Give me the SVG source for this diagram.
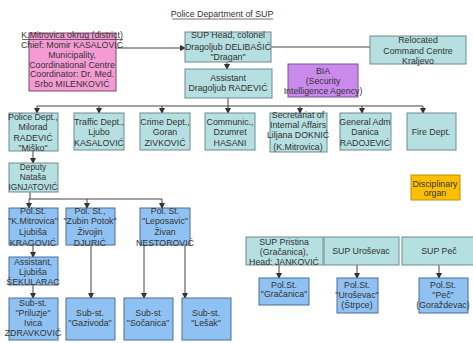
<svg xmlns="http://www.w3.org/2000/svg" width="473" height="343" viewBox="0 0 473 343">
<defs>
<marker id="ah" markerWidth="6" markerHeight="6" refX="5" refY="3" orient="auto" markerUnits="userSpaceOnUse">
<path d="M0,0 L6,3 L0,6 z" fill="#333"/>
</marker>
<style>
text{font-family:"Liberation Sans",Arial,sans-serif;font-size:8.8px;fill:#333;text-anchor:middle}
.s{font-size:8.3px}
.t{fill:#b5dfe0;stroke:#6f8c8e;stroke-width:1}
.b{fill:#8fc2f2;stroke:#4d6e96;stroke-width:1}
.p{fill:#f59bd4;stroke:#7a4a66;stroke-width:1}
.v{fill:#c98aec;stroke:#7a4f96;stroke-width:1}
.o{fill:#fdc000;stroke:#c09000;stroke-width:1}
.c{fill:none;stroke:#444;stroke-width:1}
.a{marker-end:url(#ah)}
</style>
</defs>
<rect width="473" height="343" fill="#fff"/>
<g id="title">
<text x="222" y="17">Police Department of SUP</text>
<line x1="172" y1="19" x2="273" y2="19" stroke="#333" stroke-width="0.7"/>
</g>
<g id="connectors">
<path class="c a" d="M116,48 H185"/>
<path class="c" d="M271,47 H370"/>
<path class="c a" d="M227,62 V69"/>
<path class="c a" d="M228,98 V113"/>
<path class="c" d="M37,106 H423"/>
<path class="c a" d="M37,106 V113"/>
<path class="c a" d="M99,106 V113"/>
<path class="c a" d="M162,106 V113"/>
<path class="c a" d="M300,106 V113"/>
<path class="c a" d="M362,106 V113"/>
<path class="c a" d="M423,106 V113"/>
<path class="c a" d="M33,151 V163"/>
<path class="c" d="M30,192 V199 M29,199 H162"/>
<path class="c a" d="M29,199 V208"/>
<path class="c a" d="M87,199 V208"/>
<path class="c a" d="M162,199 V208"/>
<path class="c a" d="M33,245 V257"/>
<path class="c a" d="M33,285 V298"/>
<path class="c a" d="M91,245 V298"/>
<path class="c a" d="M144,245 V298"/>
<path class="c a" d="M185,245 V298"/>
<path class="c a" d="M279,265 V278"/>
<path class="c a" d="M357,265 V278"/>
<path class="c a" d="M439,265 V278"/>
</g>
<g id="district">
<rect class="p" x="29" y="33" width="87" height="58"/>
<text x="72" y="38">K.Mitrovica okrug (district)</text>
<line x1="22" y1="39.5" x2="123" y2="39.5" stroke="#333" stroke-width="0.7"/>
<text x="72" y="48">Chief: Momir KASALOVIĆ</text>
<text x="72" y="58">Municipality,</text>
<text x="72" y="68">Coordinational Centre</text>
<text x="72" y="77">Coordinator: Dr. Med.</text>
<text x="72" y="87">Srbo MILENKOVIĆ</text>
</g>
<g id="suphead">
<rect class="t" x="185" y="32" width="86" height="30"/>
<text x="228" y="38">SUP Head, colonel</text>
<text x="228" y="50">Dragoljub DELIBAŠIĆ</text>
<text x="228" y="60">"Dragan"</text>
</g>
<g id="relocated">
<rect class="t" x="370" y="36" width="96" height="28"/>
<text x="418" y="43">Relocated</text>
<text x="418" y="54">Command Centre</text>
<text x="418" y="64">Kraljevo</text>
</g>
<g id="assistant">
<rect class="t" x="185" y="69" width="87" height="29"/>
<text x="228" y="81">Assistant</text>
<text x="228" y="91">Dragoljub RADEVIĆ</text>
</g>
<g id="bia">
<rect class="v" x="288" y="64" width="70" height="33"/>
<text x="323" y="74">BIA</text>
<text x="323" y="84">(Security</text>
<text x="323" y="94">Intelligence Agency)</text>
</g>
<g id="police">
<rect class="t" x="9" y="113" width="49" height="38"/>
<text x="33" y="120">Police Dept.,</text>
<text x="33" y="130">Milorad</text>
<text x="33" y="141">RADEVIĆ</text>
<text x="33" y="151">"Miško"</text>
</g>
<g id="traffic">
<rect class="t" x="74" y="113" width="50" height="37"/>
<text x="99" y="125">Traffic Dept.,</text>
<text x="99" y="135">Ljubo</text>
<text x="99" y="146">KASALOVIĆ</text>
</g>
<g id="crime">
<rect class="t" x="140" y="113" width="50" height="37"/>
<text x="165" y="125">Crime Dept.,</text>
<text x="165" y="135">Goran</text>
<text x="165" y="146">ZIVKOVIĆ</text>
</g>
<g id="communic">
<rect class="t" x="205" y="113" width="50" height="37"/>
<text x="230" y="125">Communic.,</text>
<text x="230" y="135">Dzumret</text>
<text x="230" y="146">HASANI</text>
</g>
<g id="secretariat">
<rect class="t" x="270" y="113" width="57" height="39"/>
<text x="298" y="118">Secretariat of</text>
<text x="298" y="128">Internal Affairs</text>
<text x="298" y="138">Liljana DOKNIĆ</text>
<text x="298" y="150">(K.Mitrovica)</text>
</g>
<g id="genadm">
<rect class="t" x="340" y="113" width="51" height="37"/>
<text x="365" y="125">General Adm</text>
<text x="365" y="135">Danica</text>
<text x="365" y="146">RADOJEVIĆ</text>
</g>
<g id="fire">
<rect class="t" x="407" y="113" width="49" height="37"/>
<text x="431" y="135">Fire Dept.</text>
</g>
<g id="deputy">
<rect class="t" x="9" y="163" width="49" height="29"/>
<text class="s" x="33" y="170">Deputy</text>
<text class="s" x="33" y="180">Nataša</text>
<text class="s" x="33" y="190">IGNJATOVIĆ</text>
</g>
<g id="disciplinary">
<rect class="o" x="411" y="175" width="49" height="25"/>
<text x="435" y="187">Disciplinary</text>
<text x="435" y="196">organ</text>
</g>
<g id="kmitrovica">
<rect class="b" x="9" y="208" width="49" height="37"/>
<text x="33" y="214">Pol.St.</text>
<text x="33" y="224">"K.Mitrovica"</text>
<text x="33" y="235">Ljubiša</text>
<text x="33" y="246">KRAGOVIĆ</text>
</g>
<g id="zubin">
<rect class="b" x="66" y="208" width="49" height="37"/>
<text x="90" y="214">Pol. St.,</text>
<text x="90" y="224">"Zubin Potok"</text>
<text x="90" y="235">Živojin</text>
<text x="90" y="246">DJURIĆ</text>
</g>
<g id="leposavic">
<rect class="b" x="140" y="208" width="50" height="37"/>
<text x="165" y="214">Pol. St.</text>
<text x="165" y="224">"Leposavic"</text>
<text x="165" y="235">Živan</text>
<text x="165" y="246">NESTOROVIĆ</text>
</g>
<g id="assistant2">
<rect class="b" x="9" y="257" width="49" height="28"/>
<text x="33" y="265">Assistant,</text>
<text x="33" y="275">Ljubiša</text>
<text x="33" y="285">ŠEKULARAC</text>
</g>
<g id="priluzje">
<rect class="b" x="9" y="298" width="49" height="42"/>
<text x="33" y="306">Sub-st.</text>
<text x="33" y="316">"Priluzje"</text>
<text x="33" y="326">Ivica</text>
<text x="33" y="336">ZDRAVKOVIĆ</text>
</g>
<g id="gazivoda">
<rect class="b" x="66" y="298" width="49" height="42"/>
<text x="90" y="316">Sub-st.</text>
<text x="90" y="326">"Gazivoda"</text>
</g>
<g id="socanica">
<rect class="b" x="124" y="298" width="49" height="42"/>
<text x="148" y="316">Sub-st</text>
<text x="148" y="326">"Sočanica"</text>
</g>
<g id="lesak">
<rect class="b" x="182" y="298" width="49" height="42"/>
<text x="206" y="316">Sub-st.</text>
<text x="206" y="326">"Lešak"</text>
</g>
<g id="suppristina">
<rect class="t" x="246" y="237" width="77" height="28"/>
<text x="284" y="245">SUP Pristina</text>
<text x="284" y="255">(Gračanica),</text>
<text x="284" y="265">Head: JANKOVIĆ</text>
</g>
<g id="supurosevac">
<rect class="t" x="324" y="237" width="75" height="28"/>
<text x="361" y="254">SUP Uroševac</text>
</g>
<g id="suppec">
<rect class="t" x="402" y="237" width="72" height="28"/>
<text x="439" y="254">SUP Peč</text>
</g>
<g id="gracanica">
<rect class="b" x="259" y="278" width="50" height="27"/>
<text x="284" y="288">Pol.St.</text>
<text x="284" y="297">"Gračanica"</text>
</g>
<g id="urosevac">
<rect class="b" x="337" y="278" width="41" height="35"/>
<text x="357" y="288">Pol.St.</text>
<text x="357" y="298">"Uroševac"</text>
<text x="357" y="308">(Štrpce)</text>
</g>
<g id="pec">
<rect class="b" x="419" y="278" width="49" height="35"/>
<text x="443" y="288">Pol.St.</text>
<text x="443" y="298">"Peč"</text>
<text x="443" y="308">(Goraždevac)</text>
</g>
</svg>
